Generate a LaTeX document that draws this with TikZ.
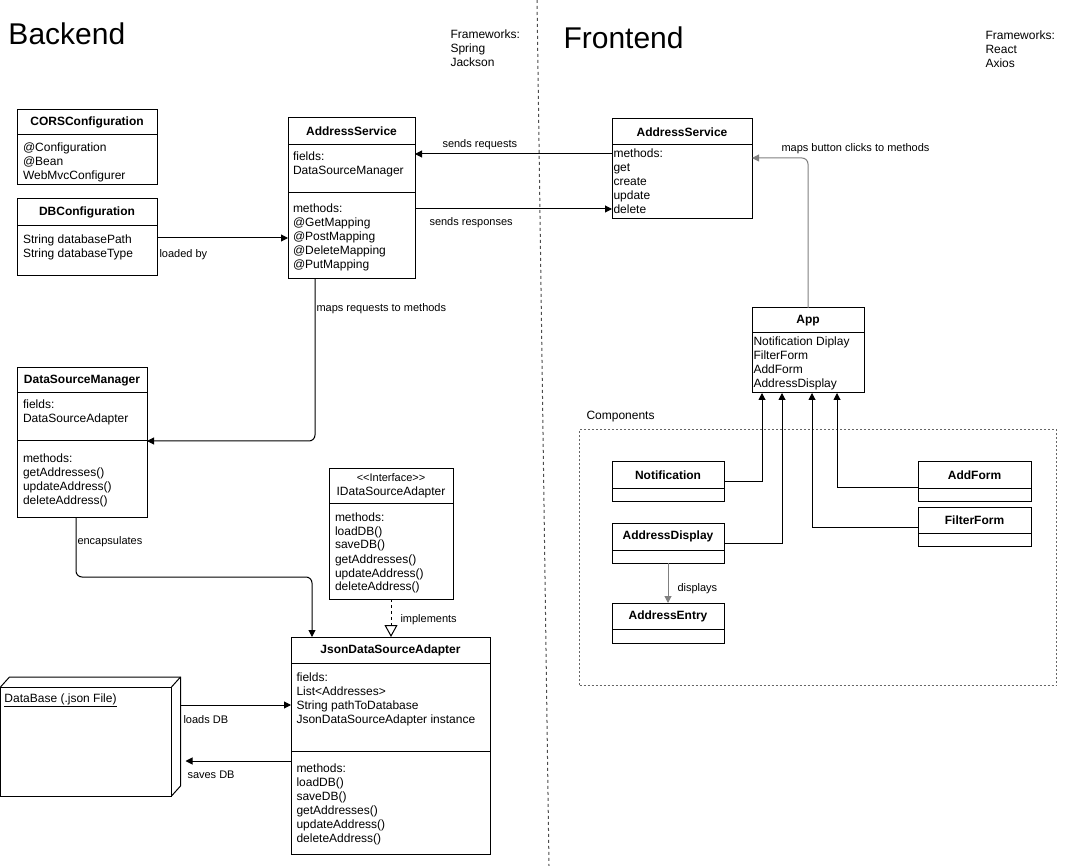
\documentclass[tikz,border=0pt]{standalone}
\usepackage{fontspec}
\setmainfont{Liberation Sans}
\usetikzlibrary{arrows.meta}

\newcommand{\umlpart}[5]{%
  \parbox[t][#2][t]{#1}{\fontsize{12}{14}\selectfont\leftskip=#3\relax\rule{0pt}{#4}#5}}

\begin{document}
\begin{tikzpicture}[x=1pt, y=-1pt, line width=1pt,
  umltitle/.style={draw, inner sep=0pt, outer sep=0pt, anchor=north west, font=\bfseries\fontsize{12}{14}\selectfont},
  umlbody/.style={draw, inner sep=0pt, outer sep=0pt, anchor=north west},
  arr/.style={-{Triangle[length=7pt,width=7pt]}},
  impl/.style={dash pattern=on 3pt off 3pt, -{Triangle[open,length=12pt,width=13pt]}},
  lbl/.style={inner sep=0pt, anchor=base west, font=\fontsize{11}{13}\selectfont}]
\useasboundingbox (0,0) rectangle (1066,866);

% backend
\node[anchor=base west, inner sep=0pt, font=\fontsize{30}{36}\selectfont] (backend) at (8,45) {Backend};
\node[anchor=north west, inner sep=0pt] (fwback) at (450,24) {\umlpart{75pt}{44pt}{0pt}{14pt}{Frameworks:\\Spring\\Jackson}};

\node[umltitle, minimum width=140pt, minimum height=25pt] (cors) at (17,110) {CORSConfiguration};
\node[umlbody] (cors-b) at (cors.south west) {\umlpart{140pt}{50pt}{6pt}{17pt}{@Configuration\\@Bean\\WebMvcConfigurer}};

\node[umltitle, minimum width=140pt, minimum height=27pt] (dbconf) at (17,199) {DBConfiguration};
\node[umlbody] (dbconf-b) at (dbconf.south west) {\umlpart{140pt}{50pt}{6pt}{18pt}{String databasePath\\String databaseType}};

\node[umltitle, minimum width=127pt, minimum height=27pt] (beas) at (288,118) {AddressService};
\node[umlbody] (beas-f) at (beas.south west) {\umlpart{127pt}{48pt}{5pt}{16pt}{fields:\\DataSourceManager}};
\node[umlbody] (beas-m) at (beas-f.south west) {\umlpart{127pt}{86pt}{5pt}{20pt}{methods:\\@GetMapping\\@PostMapping\\@DeleteMapping\\@PutMapping}};

\node[umltitle, minimum width=130pt, minimum height=25pt] (dsm) at (17,368) {DataSourceManager};
\node[umlbody] (dsm-f) at (dsm.south west) {\umlpart{130pt}{48pt}{6pt}{16pt}{fields:\\DataSourceAdapter}};
\node[umlbody] (dsm-m) at (dsm-f.south west) {\umlpart{130pt}{76pt}{6pt}{22pt}{methods:\\getAddresses()\\updateAddress()\\deleteAddress()}};

\node[umltitle, font=\fontsize{12}{14}\selectfont, align=center, minimum width=124pt, minimum height=34pt] (idsa) at (329,469) {{\fontsize{11}{13}\selectfont <\kern0pt<Interface>\kern0pt>}\\IDataSourceAdapter};
\node[umlbody] (idsa-b) at (idsa.south west) {\umlpart{124pt}{96pt}{6pt}{18pt}{methods:\\loadDB()\\saveDB()\\getAddresses()\\updateAddress()\\deleteAddress()}};

\node[umltitle, minimum width=199pt, minimum height=26pt] (jdsa) at (291,637) {JsonDataSourceAdapter};
\node[umlbody] (jdsa-f) at (jdsa.south west) {\umlpart{199pt}{88pt}{5.5pt}{18pt}{fields:\\List<Addresses>\\String pathToDatabase\\JsonDataSourceAdapter instance}};
\node[umlbody] (jdsa-m) at (jdsa-f.south west) {\umlpart{199pt}{103pt}{5.5pt}{21pt}{methods:\\loadDB()\\saveDB()\\getAddresses()\\updateAddress()\\deleteAddress()}};

\node[inner sep=0pt, outer sep=0pt, anchor=north west, minimum width=180pt, minimum height=119pt] (db) at (0.5,677) {};
\node[umlbody] (db-front) at (db.north west |- 0,687) {\umlpart{171pt}{109pt}{4pt}{15pt}{\underline{DataBase (.json File)}}};
\draw (db-front.north west) -- ++(9,-10) -- (db.north east) -- ++(0,109) -- (db-front.south east);
\draw (db-front.north east) -- (db.north east);

% frontend
\node[anchor=base west, inner sep=0pt, font=\fontsize{30}{36}\selectfont] (frontend) at (563,49) {Frontend};
\node[anchor=north west, inner sep=0pt] (fwfront) at (985,25) {\umlpart{75pt}{44pt}{0pt}{14pt}{Frameworks:\\React\\Axios}};

\node[umltitle, minimum width=140pt, minimum height=26pt] (feas) at (612,119) {AddressService};
\node[umlbody] (feas-b) at (feas.south west) {\umlpart{140pt}{74pt}{1.5pt}{12.5pt}{methods:\\get\\create\\update\\delete}};

\node[umltitle, minimum width=112pt, minimum height=25pt] (app) at (752,308) {App};
\node[umlbody] (app-b) at (app.south west) {\umlpart{112pt}{60pt}{1.5pt}{12.5pt}{Notification Diplay\\FilterForm\\AddForm\\AddressDisplay}};

\node[lbl, font=\fontsize{12}{14}\selectfont] (complbl) at (586,420) {Components};
\node[draw=black!60, dash pattern=on 2pt off 2pt, line width=0.8pt, inner sep=0pt, outer sep=0pt, anchor=north west, minimum width=477pt, minimum height=256pt] (comps) at (579.5,429.5) {};

\node[umltitle, minimum width=112pt, minimum height=26pt] (notif) at (612,462) {Notification};
\node[umlbody, minimum width=112pt, minimum height=13pt] (notif-b) at (notif.south west) {};
\node[umltitle, minimum width=113pt, minimum height=26pt] (addform) at (918,462) {AddForm};
\node[umlbody, minimum width=113pt, minimum height=13pt] (addform-b) at (addform.south west) {};
\node[umltitle, minimum width=113pt, minimum height=26pt] (filter) at (918,507) {FilterForm};
\node[umlbody, minimum width=113pt, minimum height=13pt] (filter-b) at (filter.south west) {};
\node[umltitle, minimum width=112pt, minimum height=27pt] (adisp) at (612,523) {AddressDisplay};
\node[umlbody, minimum width=112pt, minimum height=13pt] (adisp-b) at (adisp.south west) {};
\node[umltitle, minimum width=112pt, minimum height=26pt] (aentry) at (612,603) {AddressEntry};
\node[umlbody, minimum width=112pt, minimum height=14pt] (aentry-b) at (aentry.south west) {};

\draw[black!70, dash pattern=on 3pt off 3pt] (537,0) -- (549,866);

% connectors
\draw[arr] (feas-b.west |- 0,154) -- (beas-f.east |- 0,154);
\node[lbl] (l-req) at (442,148) {sends requests};
\draw[arr] (beas-m.east |- 0,209) -- (feas-b.west |- 0,209);
\node[lbl] (l-resp) at (429,226) {sends responses};
\draw[arr] (dbconf-b.east |- 0,238) -- (beas-m.west |- 0,238);
\node[lbl] (l-load) at (159,258) {loaded by};
\draw[arr, rounded corners=6pt] (beas-m.south -| 315,0) |- (dsm-m.north east);
\node[lbl] (l-maps) at (316,312) {maps requests to methods};
\draw[arr, rounded corners=6pt] (dsm-m.south -| 76,0) |- (312,577) -- (jdsa.north -| 312,0);
\node[lbl] (l-enc) at (77,544) {encapsulates};
\draw[impl] (idsa-b.south) -- (idsa-b.south |- jdsa.north);
\node[lbl] (l-impl) at (400,622) {implements};
\draw[arr] (db.east |- 0,705) -- (jdsa-f.west |- 0,705);
\node[lbl] (l-ldb) at (183,723) {loads DB};
\draw[arr, shorten >=5pt] (jdsa-m.west |- 0,761) -- (db.east |- 0,761);
\node[lbl] (l-sdb) at (187,778) {saves DB};

\draw[arr, draw=gray, rounded corners=6pt] (app.north) |- (feas-b.east |- 0,158);
\node[lbl] (l-click) at (781,152) {maps button clicks to methods};
\draw[arr] (notif.east |- 0,481) -| (app-b.south -| 762,0);
\draw[arr] (adisp.east |- 0,543) -| (app-b.south -| 782,0);
\draw[arr] (filter.west |- 0,527) -| (app-b.south -| 812,0);
\draw[arr] (addform.west |- 0,487) -| (app-b.south -| 837,0);
\draw[arr, draw=gray] (adisp-b.south) -- (aentry.north);
\node[lbl] (l-disp) at (677,591) {displays};
\end{tikzpicture}
\end{document}
